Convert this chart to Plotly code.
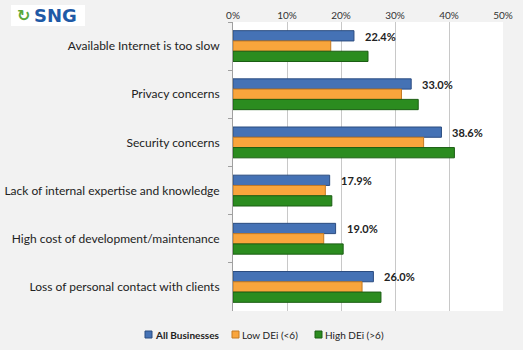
import plotly.graph_objects as go

categories = ["Available Internet is too slow", "Privacy concerns", "Security concerns",
              "Lack of internal expertise and knowledge", "High cost of development/maintenance",
              "Loss of personal contact with clients"]
all_businesses = [22.4, 33.0, 38.6, 17.9, 19.0, 26.0]
low_dei = [18.1, 31.2, 35.3, 17.1, 16.8, 23.9]
high_dei = [25.0, 34.3, 41.0, 18.3, 20.4, 27.4]
series_names = ["All Businesses", "Low DEi (<6)", "High DEi (>6)"]
x_ticks = [0, 10, 20, 30, 40, 50]
x_tick_labels = ["0%", "10%", "20%", "30%", "40%", "50%"]

FONT = "Lato, Open Sans, sans-serif"
W, H = 523, 350
L, R, T, B = 233, 20, 22, 39
PW, PH = W - L - R, H - T - B


def px(x):
    return (x - L) / PW


def py(y):
    return (H - B - y) / PH


fig = go.Figure()
colors = [("#4572b5", "#2b4c80"), ("#f9a53c", "#c47a22"), ("#2b8c1f", "#1b5e13")]
for name, vals, (col, line) in zip(series_names, [all_businesses, low_dei, high_dei], colors):
    fig.add_trace(go.Bar(
        y=categories, x=vals, name=name, orientation="h",
        marker=dict(color=col, line=dict(color=line, width=1)),
        hoverinfo="skip", showlegend=False,
    ))

for c, v in zip(categories, all_businesses):
    fig.add_annotation(x=v, y=c, text=f"<b>{v:.1f}%</b>", showarrow=False,
                       xanchor="left", xshift=9, yshift=10,
                       font=dict(family=FONT, size=11, color="#222222"))

# manual legend
leg_x = [145, 232, 315]
for i, (name, (col, line)) in enumerate(zip(series_names, colors)):
    x0 = leg_x[i]
    fig.add_shape(type="rect", xref="paper", yref="paper",
                  x0=px(x0), x1=px(x0 + 7), y0=py(338), y1=py(331),
                  fillcolor=col, line=dict(color=line, width=1))
    txt = f"<b>{name}</b>" if i == 0 else name
    fig.add_annotation(xref="paper", yref="paper", x=px(x0 + 8), y=py(335), text=txt,
                       showarrow=False, xanchor="left", yanchor="middle",
                       font=dict(family=FONT, size=10, color="#222222"))

# logo
fig.add_shape(type="rect", xref="paper", yref="paper", x0=px(11), x1=px(85), y0=py(26), y1=py(5),
              fillcolor="white", line=dict(width=0), layer="above")
fig.add_annotation(xref="paper", yref="paper", x=px(32), y=py(15.5), text="<b>SNG</b>",
                   showarrow=False, xanchor="left", yanchor="middle",
                   font=dict(family="DejaVu Sans, sans-serif", size=18, color="#1f5aa6"))
fig.add_annotation(xref="paper", yref="paper", x=px(15), y=py(15.5), text="<b>↻</b>",
                   showarrow=False, xanchor="left", yanchor="middle",
                   font=dict(family="DejaVu Sans, sans-serif", size=16, color="#5aa83a"))

fig.update_layout(
    width=W, height=H,
    margin=dict(l=L, r=R, t=T, b=B, autoexpand=False),
    paper_bgcolor="#f2f2f2", plot_bgcolor="white",
    barmode="group", bargap=0.36, bargroupgap=0.0,
    font=dict(family=FONT, size=12, color="#222222"),
    showlegend=False,
    xaxis=dict(side="top", range=[0, 50], tickvals=x_ticks, ticktext=x_tick_labels,
               showgrid=True, gridcolor="#c8c8c8", gridwidth=1, zeroline=False,
               showline=False, tickfont=dict(family=FONT, size=10, color="#333333"),
               fixedrange=True),
    yaxis=dict(autorange="reversed", showline=True, linecolor="#a0a0a0",
               ticks="outside", tickson="boundaries", ticklen=4, tickcolor="#a0a0a0",
               ticklabelstandoff=10,
               tickfont=dict(family=FONT, size=12, color="#222222"), showgrid=False,
               fixedrange=True),
)

fig.write_html("out.html")
